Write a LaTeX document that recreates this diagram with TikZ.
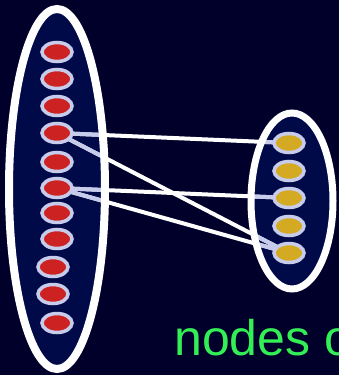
\documentclass[tikz,border=0pt]{standalone}
\usepackage{fontspec}
\setmainfont{Liberation Sans}
\usetikzlibrary{shapes.geometric}
\definecolor{bgnavy}{HTML}{00002A}
\definecolor{setfill}{HTML}{000A48}
\definecolor{ringcol}{HTML}{C8CCEC}
\definecolor{redfill}{HTML}{CC2222}
\definecolor{goldfill}{HTML}{D4AA22}
\definecolor{labelgreen}{HTML}{33EE55}
\tikzset{
  setbox/.style={ellipse, draw=white, fill=setfill, inner sep=0pt},
  rednode/.style={ellipse, draw=ringcol, fill=redfill, line width=3.5pt,
    minimum width=30pt, minimum height=19pt, inner sep=0pt},
  goldnode/.style={rednode, fill=goldfill},
  link/.style={white, line width=4pt},
  linkin/.style={ringcol, line width=4pt}
}
\begin{document}
\begin{tikzpicture}[x=1pt, y=-1pt]
  \fill[bgnavy] (0,0) rectangle (339,375);
  \useasboundingbox (0,0) rectangle (339,375);

  % the two vertex sets (fill only; border drawn later)
  \node[setbox, draw=none, minimum width=96pt, minimum height=360pt] (L) at (57,189) {};
  \node[setbox, draw=none, minimum width=82pt, minimum height=176pt] (R) at (292,201) {};

  % vertex positions
  \foreach \i/\x/\y in {1/57/52, 2/57/79, 3/57/106, 4/57/133, 5/57/162, 6/57/188,
                        7/57/213, 8/57/239, 9/53/267, 10/53/294, 11/57/323}
    \coordinate (l\i) at (\x,\y);
  \foreach \i/\y in {1/143, 2/171, 3/198, 4/226, 5/253}
    \coordinate (r\i) at (289,\y);

  % edges
  \foreach \a/\b in {l4/r1, l4/r5, l6/r3, l6/r5}
    \draw[link] (\a) -- (\b);
  \begin{scope}
    \clip (57,189) ellipse (48pt and 180pt);
    \foreach \a/\b in {l4/r1, l4/r5, l6/r3, l6/r5}
      \draw[linkin] (\a) -- (\b);
  \end{scope}
  \begin{scope}
    \clip (292,201) ellipse (41pt and 88pt);
    \foreach \a/\b in {l4/r1, l4/r5, l6/r3, l6/r5}
      \draw[linkin] (\a) -- (\b);
  \end{scope}

  % set borders
  \draw[white, line width=8pt] (L.center) ellipse (48pt and 180pt);
  \draw[white, line width=7pt] (R.center) ellipse (41pt and 88pt);

  % vertices
  \foreach \i in {1,...,11}
    \node[rednode] (nl\i) at (l\i) {};
  \foreach \i in {1,...,5}
    \node[goldnode] (nr\i) at (r\i) {};

  % caption
  \node[anchor=base west, inner sep=0pt, text=labelgreen,
        font=\fontsize{50}{60}\selectfont] (cap) at (174,355) {nodes o};
\end{tikzpicture}
\end{document}
